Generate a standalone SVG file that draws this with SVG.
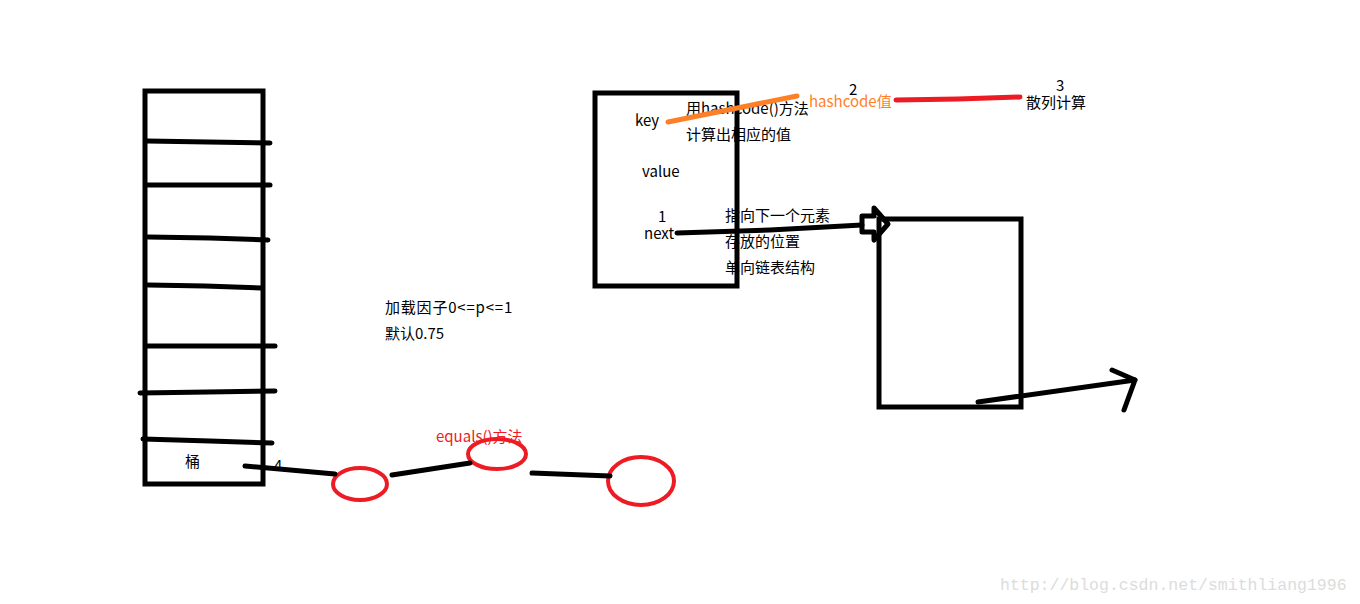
<svg xmlns="http://www.w3.org/2000/svg" width="1360" height="604" viewBox="0 0 1360 604">
<style>
.bk{fill:none;stroke:#000;stroke-width:5;stroke-linecap:round;stroke-linejoin:round}
.box{fill:none;stroke:#000;stroke-width:5}
.rd{fill:none;stroke:#ed1c24;stroke-width:4}
.t{font-family:"Noto Sans CJK SC","Microsoft YaHei",sans-serif;font-size:15px;fill:#000}
.or{fill:#ff7f27}
.red{fill:#ed1c24}
.wm{font-family:"Liberation Mono",monospace;font-size:16.5px;fill:#dcdcdc}
</style>
<rect width="1360" height="604" fill="#fff"/>
<g id="bucket-array">
<rect class="box" x="145" y="91" width="118" height="393"/>
<path class="bk" d="M147 141 L208 142 L270 143"/>
<path class="bk" d="M148 185 L270 185"/>
<path class="bk" d="M148 237 L210 238 L268 240"/>
<path class="bk" d="M148 285 L205 286 L262 288"/>
<path class="bk" d="M147 346 L275 346"/>
<path class="bk" d="M140 393 L208 392 L275 391"/>
<path class="bk" d="M143 439 L210 441 L272 443"/>
<text class="t" x="185" y="467">桶</text>
</g>
<g id="entry">
<rect class="box" x="595" y="93" width="142" height="193"/>
<text class="t" x="635" y="126">key</text>
<text class="t" x="642" y="177">value</text>
<text class="t" x="658" y="222">1</text>
<text class="t" x="644" y="239">next</text>
</g>
<g id="next-node">
<rect class="box" x="879" y="219" width="142" height="188"/>
</g>
<g id="chain-node-1"><ellipse class="rd" cx="360" cy="484" rx="27" ry="16"/></g>
<g id="chain-node-2"><ellipse class="rd" cx="497" cy="454" rx="29" ry="15"/></g>
<g id="chain-node-3"><ellipse class="rd" cx="641" cy="481" rx="33" ry="24"/></g>
<g id="labels">
<text class="t" x="686" y="114">用hashcode()方法</text>
<text class="t" x="686" y="140">计算出相应的值</text>
<text class="t" x="849" y="95">2</text>
<text class="t or" x="809" y="107">hashcode值</text>
<text class="t" x="1056" y="91">3</text>
<text class="t" x="1026" y="108">散列计算</text>
<text class="t" x="725" y="221">指向下一个元素</text>
<text class="t" x="725" y="247">存放的位置</text>
<text class="t" x="725" y="273">单向链表结构</text>
<text class="t" x="385" y="313" letter-spacing="0.8">加载因子0&lt;=p&lt;=1</text>
<text class="t" x="385" y="339">默认0.75</text>
<text class="t" x="274" y="471">4</text>
<text class="t red" x="436" y="442">equals()方法</text>
</g>
<g id="connectors">
<path d="M668 122 L797 96" fill="none" stroke="#ff7f27" stroke-width="5" stroke-linecap="round"/>
<path d="M896 100 L958 99 L1020 97" fill="none" stroke="#ed1c24" stroke-width="5" stroke-linecap="round"/>
<path class="bk" d="M677 233 L770 230 L862 225"/>
<path class="bk" d="M862 216 L874 216 L874 208 L888 224 L874 240 L874 232 L862 232 Z" stroke-width="4"/>
<path class="bk" d="M978 402 L1135 380"/>
<path class="bk" d="M1112 370 L1135 380 L1124 410"/>
<path class="bk" d="M245 466 L335 474"/>
<path class="bk" d="M392 475 L470 463"/>
<path class="bk" d="M532 473 L610 476"/>
</g>
<text class="wm" x="1000" y="590">http://blog.csdn.net/smithliang1996</text>
</svg>
